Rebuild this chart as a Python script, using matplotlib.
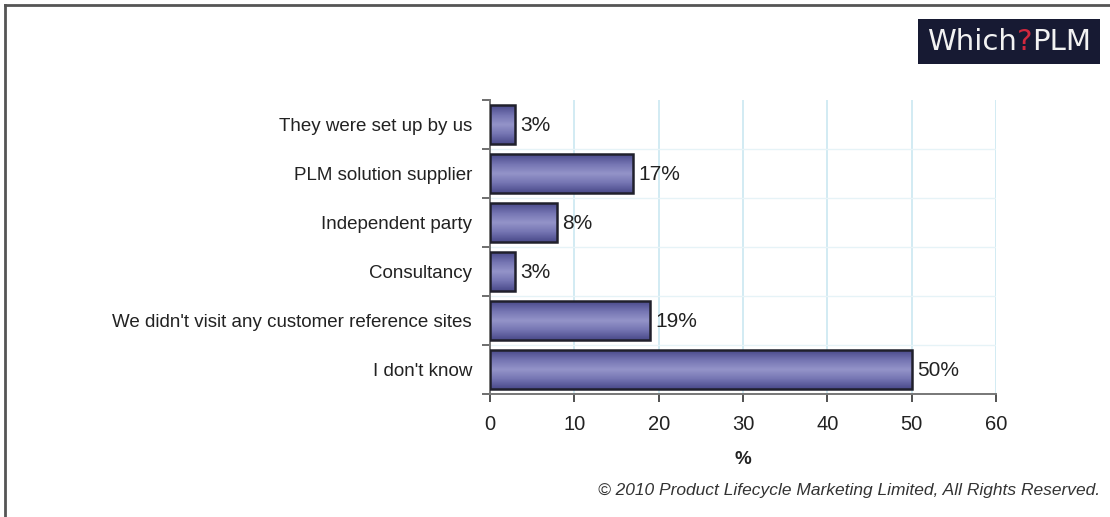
import numpy as np
import matplotlib
matplotlib.use("Agg")
import matplotlib.pyplot as plt
from matplotlib.patches import Rectangle
from matplotlib.lines import Line2D
from matplotlib.colors import LinearSegmentedColormap

plt.rcParams['font.family'] = ['Liberation Sans', 'DejaVu Sans']

categories = [
    "They were set up by us",
    "PLM solution supplier",
    "Independent party",
    "Consultancy",
    "We didn't visit any customer reference sites",
    "I don't know",
]
values = [3, 17, 8, 3, 19, 50]
x_ticks = [0, 10, 20, 30, 40, 50, 60]

W, H = 1110, 517
fig = plt.figure(figsize=(W / 100, H / 100), dpi=100)
fig.patch.set_facecolor("white")

ax = fig.add_axes([490 / W, 1 - 394 / H, (996 - 490) / W, (394 - 100) / H])
ax.set_facecolor("white")

# bar fill: darker at top/bottom edges, lighter in the middle
grad = LinearSegmentedColormap.from_list(
    "barfill", ["#4a4a8a", "#7474b2", "#9494c9", "#7474b2", "#4a4a8a"])
ramp = np.linspace(0, 1, 64).reshape(-1, 1)

bar_h = 0.78
ypos = np.arange(len(categories))
for y, v in zip(ypos, values):
    ax.imshow(ramp, cmap=grad, aspect="auto", interpolation="bilinear",
              extent=[0, v, y + bar_h / 2, y - bar_h / 2], zorder=3)
    ax.add_patch(Rectangle((0, y - bar_h / 2), v, bar_h, fill=False,
                           edgecolor="#20202c", linewidth=1.8, zorder=4))
    ax.text(v + 0.6, y + 0.02, f"{v}%", va="center", ha="left",
            fontsize=15, color="#222222", zorder=5)

ax.set_xlim(0, 60)
ax.set_ylim(len(categories) - 0.5, -0.5)

ax.set_xticks(x_ticks)
ax.set_xticklabels([str(t) for t in x_ticks], fontsize=14.5, color="#222222")
ax.set_yticks(np.arange(len(categories) + 1) - 0.5)
ax.set_yticklabels([])
ax.set_yticks(ypos, minor=True)
ax.set_yticklabels(categories, minor=True, fontsize=13.5, color="#222222")
ax.tick_params(axis="y", which="minor", length=0, pad=13)
ax.tick_params(axis="y", which="major", length=6, width=1.2, color="#555555",
               direction="out")
ax.tick_params(axis="x", which="major", length=6, width=1.2, color="#333333",
               direction="out", pad=9)

for x in x_ticks[1:]:
    ax.axvline(x, color="#cfe9f2", linewidth=1.3, zorder=1)
for yb in np.arange(1, len(categories)) - 0.5:
    ax.axhline(yb, color="#e6f3f7", linewidth=1.0, zorder=1)

for side in ("top", "right"):
    ax.spines[side].set_visible(False)
for side in ("left", "bottom"):
    ax.spines[side].set_color("#777777")
    ax.spines[side].set_linewidth(1.4)

fig.text(743 / W, 1 - 459 / H, "%", ha="center", va="center",
         fontsize=13.5, fontweight="bold", color="#222222")
fig.text(1100 / W, 1 - 491 / H,
         "\u00a9 2010 Product Lifecycle Marketing Limited, All Rights Reserved.",
         ha="right", va="center", fontsize=12.5, style="italic", color="#333333")

# frame lines on the left and top edge
fig.add_artist(Line2D([5 / W, 5 / W], [0, 1 - 5 / H], color="#555555",
                      linewidth=2, transform=fig.transFigure))
fig.add_artist(Line2D([5 / W, 1], [1 - 5 / H, 1 - 5 / H], color="#555555",
                      linewidth=2, transform=fig.transFigure))

# logo
fig.add_artist(Rectangle((918 / W, 1 - 64 / H), (1100 - 918) / W, 45 / H,
                         transform=fig.transFigure, facecolor="#171a33",
                         edgecolor="none"))
fig.canvas.draw()
renderer = fig.canvas.get_renderer()
x0 = 927 / W
yl = 1 - 42 / H
parts = [("Which", "#f2f2f2"), ("?", "#d1283e"), ("PLM", "#f2f2f2")]
for txt, col in parts:
    t = fig.text(x0, yl, txt, ha="left", va="center", fontsize=21,
                 color=col, family=["DejaVu Sans"])
    bb = t.get_window_extent(renderer)
    x0 = bb.x1 / W

fig.savefig("out.png", dpi=100)
